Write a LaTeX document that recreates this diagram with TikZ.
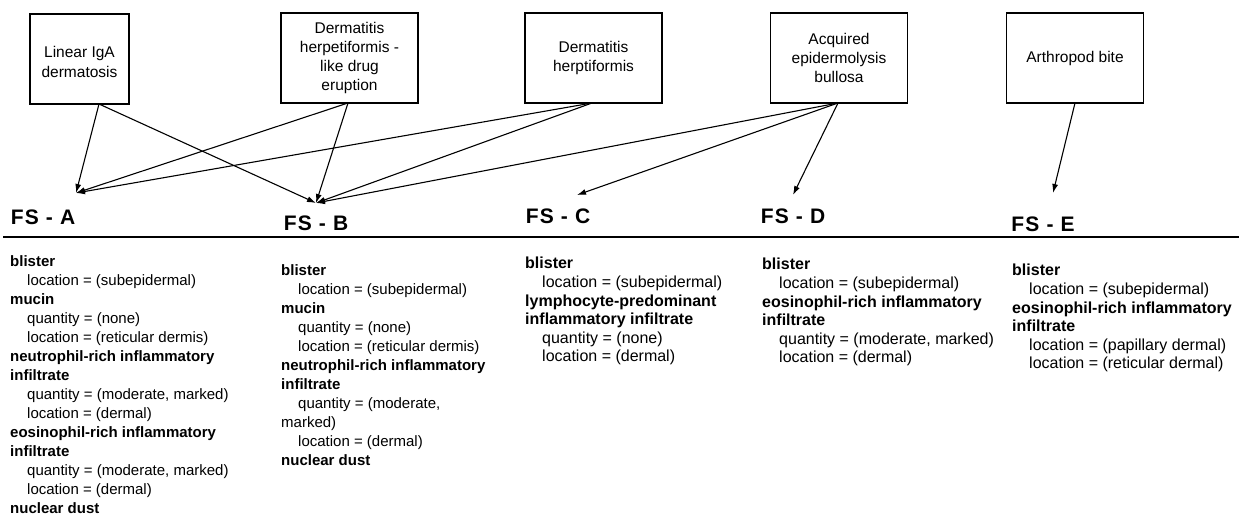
\documentclass[tikz,border=0pt]{standalone}
\usepackage{fontspec}
\setmainfont{Liberation Sans}
\usetikzlibrary{arrows.meta}
\newcommand\feathd[1]{\textbf{#1}}
\newcommand\featind{\hspace*{17pt}}
\tikzset{
  dxbox/.style={draw, line width=1.1pt, minimum width=137pt, minimum height=90pt,
    align=center, inner sep=2pt, font=\fontsize{15.5}{19.3}\selectfont},
  fslabel/.style={inner sep=0pt, font=\fontsize{21}{24}\selectfont\bfseries\addfontfeature{LetterSpace=6}},
  featlist/.style={anchor=north west, align=left, inner sep=0pt,
    font=\fontsize{15}{19}\selectfont},
  featbig/.style={featlist, font=\fontsize{16}{18.6}\selectfont},
  link/.style={line width=1.1pt, -{Latex[length=9pt,width=6pt]}},
}
\begin{document}
\begin{tikzpicture}[x=1pt,y=-1pt]
\useasboundingbox (0,0) rectangle (1239,517);

% diagnosis boxes
\node[dxbox, minimum width=99pt] (lad) at (79.5,59) {\rule{0pt}{17pt}Linear IgA\\dermatosis};
\node[dxbox] (dhd) at (349.5,58) {Dermatitis\\herpetiformis -\\like drug\\eruption};
\node[dxbox] (dh)  at (593.5,58) {Dermatitis\\herptiformis};
\node[dxbox] (eba) at (839,58)   {Acquired\\epidermolysis\\bullosa};
\node[dxbox] (ab)  at (1075,58)  {Arthropod bite};

% feature-set labels
\node[fslabel] (fsa) at (43,217)   {FS - A};
\node[fslabel] (fsb) at (316,223)  {FS - B};
\node[fslabel] (fsc) at (558,216)  {FS - C};
\node[fslabel] (fsd) at (793,216)  {FS - D};
\node[fslabel] (fse) at (1043,224) {FS - E};

% arrow end points above the labels
\coordinate (ta) at (76,193);
\coordinate (tb) at (316,203);
\coordinate (tc) at (577,195);
\coordinate (td) at (793,195);
\coordinate (te) at (1053,193);

% arrow start points on the box bottoms
\coordinate (s1) at (99,104);
\coordinate (s2) at (348,103);
\coordinate (s3) at (592,103);
\coordinate (s4) at (838,103);
\coordinate (s5) at (1075,103);

\draw[link] (s1) -- (ta);
\draw[link] (s1) -- (tb);
\draw[link] (s2) -- (ta);
\draw[link] (s2) -- (tb);
\draw[link] (s3) -- (ta);
\draw[link] (s3) -- (tb);
\draw[link] (s4) -- (tb);
\draw[link] (s4) -- (tc);
\draw[link] (s4) -- (td);
\draw[link] (s5) -- (te);

% separator
\coordinate (rl) at (3,237);
\coordinate (rr) at (1239,237);
\draw[line width=1.6pt] (rl) -- (rr);

% feature lists
\node[featlist] (la) at (10,255) {%
\feathd{blister}\\
\featind location = (subepidermal)\\
\feathd{mucin}\\
\featind quantity = (none)\\
\featind location = (reticular dermis)\\
\feathd{neutrophil-rich inflammatory}\\
\feathd{infiltrate}\\
\featind quantity = (moderate, marked)\\
\featind location = (dermal)\\
\feathd{eosinophil-rich inflammatory}\\
\feathd{infiltrate}\\
\featind quantity = (moderate, marked)\\
\featind location = (dermal)\\
\feathd{nuclear dust}};

\node[featlist] (lb) at (281,264) {%
\feathd{blister}\\
\featind location = (subepidermal)\\
\feathd{mucin}\\
\featind quantity = (none)\\
\featind location = (reticular dermis)\\
\feathd{neutrophil-rich inflammatory}\\
\feathd{infiltrate}\\
\featind quantity = (moderate,\\
marked)\\
\featind location = (dermal)\\
\feathd{nuclear dust}};

\node[featbig] (lc) at (525,257) {%
\feathd{blister}\\
\featind location = (subepidermal)\\
\feathd{lymphocyte-predominant}\\
\feathd{inflammatory infiltrate}\\
\featind quantity = (none)\\
\featind location = (dermal)};

\node[featbig] (ld) at (762,258) {%
\feathd{blister}\\
\featind location = (subepidermal)\\
\feathd{eosinophil-rich inflammatory}\\
\feathd{infiltrate}\\
\featind quantity = (moderate, marked)\\
\featind location = (dermal)};

\node[featbig] (le) at (1012,264) {%
\feathd{blister}\\
\featind location = (subepidermal)\\
\feathd{eosinophil-rich inflammatory}\\
\feathd{infiltrate}\\
\featind location = (papillary dermal)\\
\featind location = (reticular dermal)};
\end{tikzpicture}
\end{document}
